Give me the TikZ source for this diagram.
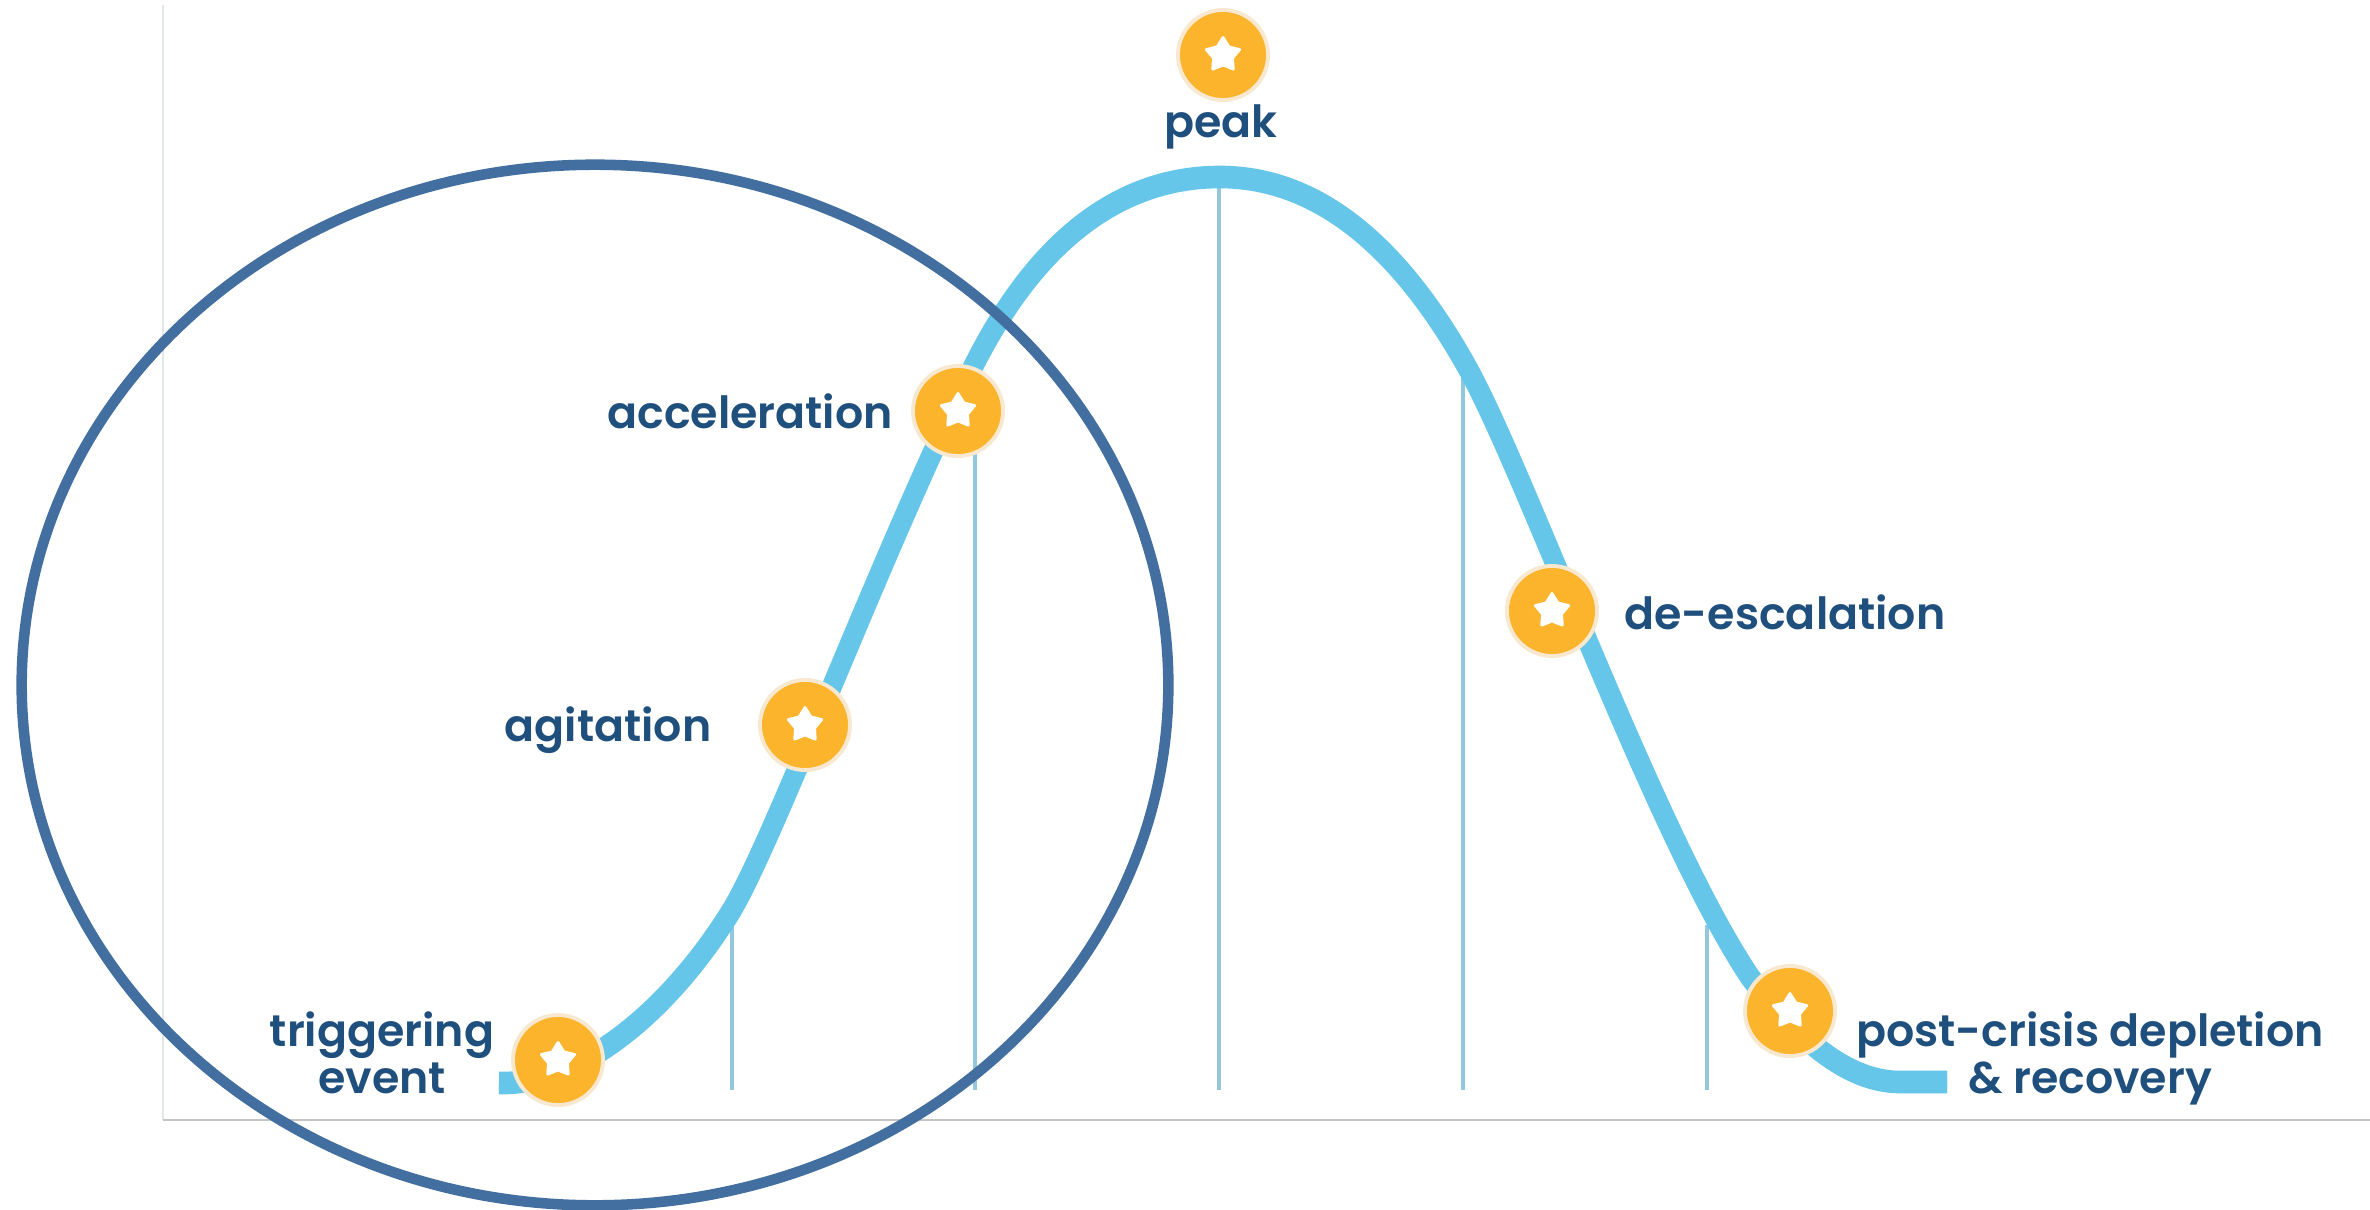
\documentclass[tikz,border=0pt]{standalone}
\usepackage{fontspec}
\setmainfont{Poppins}[BoldFont={Poppins SemiBold}]
\usetikzlibrary{shapes.geometric}
\definecolor{curveblue}{HTML}{65C6E9}
\definecolor{tickblue}{HTML}{93C7DE}
\definecolor{badgeorange}{HTML}{FBB42C}
\definecolor{badgehalo}{HTML}{F8E8D0}
\definecolor{labelblue}{HTML}{1F4F7C}
\definecolor{ringblue}{HTML}{426F9F}
\definecolor{axisgrey}{HTML}{C4C4C4}
\definecolor{axislight}{HTML}{E2E6E8}
\tikzset{
  x=0.01cm,y=-0.01cm,
  badge/.style={circle,fill=badgeorange,draw=badgehalo,line width=1.1pt,minimum size=0.9cm,inner sep=0pt},
  starmark/.style={star,star points=5,star point ratio=1.75,fill=white,draw=white,line width=0.8pt,line join=round,minimum size=0.35cm,inner sep=0pt},
  lab/.style={font=\fontsize{12.6}{13.4}\selectfont\bfseries,text=labelblue,align=center,inner sep=0pt},
  tick/.style={draw=tickblue,line width=1.3pt},
  curveline/.style={draw=curveblue,line width=5.3pt,line join=round},
  ring/.style={draw=ringblue,line width=3pt},
  bellcurve/.pic={
    \draw[curveline] (499,1083) .. controls (580,1085) and (668,1012) .. (730,913)
      .. controls (772,846) and (880,555) .. (973,367)
      .. controls (1030,253) and (1110,177) .. (1220,177)
      .. controls (1330,177) and (1410,265) .. (1467,367)
      .. controls (1525,470) and (1655,835) .. (1750,977)
      .. controls (1795,1035) and (1845,1082) .. (1900,1082)
      -- (1947,1082);
  },
}
\begin{document}
\begin{tikzpicture}
\useasboundingbox (0,0) rectangle (2370,1209);
\fill[white] (0,0) rectangle (2370,1209);
% axes
\coordinate (axtop) at (163,5);
\coordinate (axorigin) at (163,1120);
\coordinate (axright) at (2370,1120);
\draw[axislight,line width=0.5pt] (axtop) -- (axorigin);
\draw[axisgrey,line width=0.5pt] (axorigin) -- (axright);
% vertical ticks
\foreach \n/\xx/\yy in {a/732/922,b/975/440,c/1219/178,d/1463/378,e/1707/925}{
  \coordinate (top\n) at (\xx,\yy);
  \coordinate (bot\n) at (\xx,1090);
  \draw[tick] (top\n) -- (bot\n);
}
% curve: two offset strokes make the band thicker where it runs flat
\pic at (0,-2) {bellcurve};
\pic at (0,2) {bellcurve};
% badges
\foreach \n/\xx/\yy in {trig/558/1060,agit/805/725,accel/958/411,peak/1223/55,deesc/1552/611,post/1790/1011}{
  \node[badge] (\n) at (\xx,\yy) {};
  \node[starmark] (star\n) at (\xx,\yy) {};
}
% labels
\node[lab] (lpeak) at (1221,127) {peak};
\node[lab] (laccel) at (750,411) {acceleration};
\node[lab] (lagit) at (608,730) {agitation};
\node[lab] (ldeesc) at (1785,612) {de-escalation};
\node[lab] (ltrig) at (382,1053) {triggering\\event};
\node[lab] (lpost) at (2090,1058) {post-crisis depletion\\\& recovery};
% ring
\node[ring,ellipse,minimum width=11.46cm,minimum height=10.4cm,inner sep=0pt] (ringshape) at (595,685) {};
\end{tikzpicture}
\end{document}
